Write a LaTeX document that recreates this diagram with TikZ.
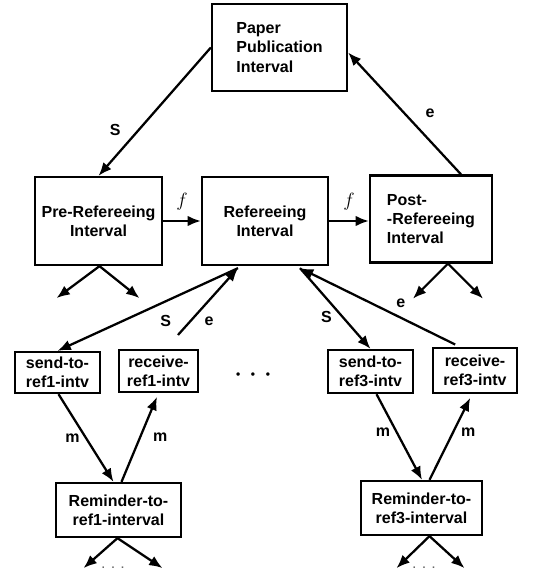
\documentclass[tikz,border=0pt]{standalone}
\usepackage{fontspec}
\setmainfont{Liberation Sans}
\usetikzlibrary{arrows.meta,calc,positioning}

\begin{document}
\begin{tikzpicture}[
        x=0.75pt, y=-0.75pt,
        % Plain boxes, bold sans text as in the scanned figure.
        box/.style={rectangle, draw, line width=1.7pt, fill=white, text=black,
            align=center, inner sep=2pt,
            font=\bfseries\fontsize{12}{14.5}\selectfont},
        link/.style={-{Latex[length=10pt,width=8pt]}, line width=1.7pt},
        lbl/.style={font=\bfseries\fontsize{12}{14}\selectfont, inner sep=1pt},
        flbl/.style={font=\fontsize{15}{17}\selectfont, inner sep=1pt}
    ]
        \useasboundingbox (0,0) rectangle (551,575);

        % Intervals
        \node[box, align=left, minimum width=101.25pt, minimum height=65.25pt] (paper) at (279.5,47.5) {Paper\\Publication\\Interval};
        \node[box, minimum width=95.25pt, minimum height=66pt] (pre) at (98.5,221) {Pre-Refereeing\\Interval};
        \node[box, minimum width=94.5pt, minimum height=66pt] (ref) at (265,221) {Refereeing\\Interval};
        \node[box, align=left, minimum width=91.5pt, minimum height=65.25pt] (post) at (431,219) {Post-\\-Refereeing\\Interval};

        % Per-referee intervals
        \node[box, minimum width=63.75pt, minimum height=30.75pt] (send1) at (57.5,372.5) {send-to-\\ref1-intv};
        \node[box, minimum width=59.25pt, minimum height=31.5pt] (recv1) at (158.5,371) {receive-\\ref1-intv};
        \node[box, minimum width=63.75pt, minimum height=32.25pt] (send3) at (370.5,371.5) {send-to-\\ref3-intv};
        \node[box, minimum width=63pt, minimum height=33.75pt] (recv3) at (475,370.5) {receive-\\ref3-intv};
        \node[box, minimum width=93.75pt, minimum height=40.5pt] (rem1) at (118.5,510) {Reminder-to-\\ref1-interval};
        \node[box, minimum width=90.75pt, minimum height=40.5pt] (rem3) at (421.5,508) {Reminder-to-\\ref3-interval};

        \node[lbl, font=\bfseries\fontsize{9}{10}\selectfont] (dots) at (253,376) {\textbullet\hspace{8pt}\textbullet\hspace{8pt}\textbullet};
        \node[lbl, text=black!60, font=\bfseries\fontsize{8}{10}\selectfont] (more1) at (113,568) {.\hspace{5pt}.\hspace{5pt}.};
        \node[lbl, text=black!60, font=\bfseries\fontsize{8}{10}\selectfont] (more3) at (424,568) {.\hspace{5pt}.\hspace{5pt}.};

        % Connections
        \draw[link] (paper.west) -- node[lbl, pos=0.64, left=12pt] (s0) {S} (pre.north);
        \draw[link] ($(post.north)+(30,0)$) -- node[lbl, pos=0.5, right=14pt] (e0) {e} ($(paper.east)+(0,5)$);
        \draw[link] (pre.east) -- node[flbl, above=6pt] (f1) {$f$} (ref.west);
        \draw[link] (ref.east) -- node[flbl, above=6pt] (f2) {$f$} (ref.east -| post.west);

        % Referee 1
        \coordinate (refL) at ($(ref.south)+(-27,2)$);
        \draw[link] (refL) -- node[lbl, pos=0.4, below=9pt] (s1) {S} (send1.north);
        \draw[link, shorten <=14pt] ($(recv1.north)+(7,0)$) -- node[lbl, pos=0.34, right=9pt] (e1) {e} (refL);
        \draw[link] ($(send1.south)+(1,0)$) -- node[lbl, pos=0.5, left=3pt] (m1) {m} ($(rem1.north)+(-5,0)$);
        \draw[link, shorten >=3pt] ($(rem1.north)+(3,0)$) -- node[lbl, pos=0.5, right=8pt] (m2) {m} (recv1.south);

        % Referee 3
        \coordinate (refR) at ($(ref.south)+(35,2)$);
        \draw[link] (refR) -- node[lbl, pos=0.6, left=6pt] (s3) {S} (send3.north);
        \draw[link, shorten <=4pt] ($(recv3.north)+(-15,0)$) -- node[lbl, pos=0.37, above=6pt] (e3) {e} (refR);
        \draw[link] ($(send3.south)+(6,0)$) -- node[lbl, pos=0.44, left=3pt] (m3) {m} ($(rem3.north)+(0.5,0)$);
        \draw[link, shorten >=3pt] ($(rem3.north)+(8,0)$) -- node[lbl, pos=0.56, right=4pt] (m4) {m} ($(recv3.south)+(-3,0)$);

        % Further sub-intervals
        \foreach \n/\dx/\l/\r/\dy in {pre/1/-43/40/32, post/17/-35/35/35, rem1/-1/-34/45/30, rem3/8/-33/35/32} {
            \draw[link] ($(\n.south)+(\dx,0)$) -- ++(\l,\dy);
            \draw[link] ($(\n.south)+(\dx,0)$) -- ++(\r,\dy);
        }
    \end{tikzpicture}
\end{document}
